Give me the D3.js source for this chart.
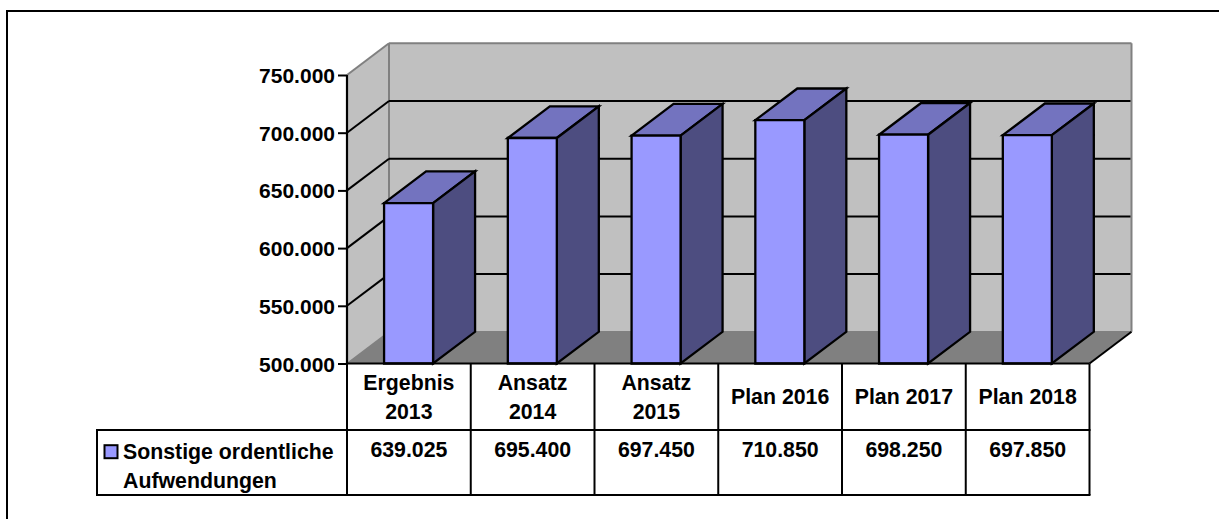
<!DOCTYPE html>
<html><head><meta charset="utf-8">
<script src="https://cdn.jsdelivr.net/npm/d3@7/dist/d3.min.js"></script>
<style>html,body{margin:0;padding:0;background:#fff}svg{display:block}text{font-family:"Liberation Sans",Arial,sans-serif;font-weight:bold;fill:#000;font-size:21.3px}</style>
</head><body><script>
const categories=[["Ergebnis","2013"],["Ansatz","2014"],["Ansatz","2015"],["Plan 2016"],["Plan 2017"],["Plan 2018"]];
const values=[639025,695400,697450,710850,698250,697850];
const tickValues=[500000,550000,600000,650000,700000,750000];
const legendLines=["Sonstige ordentliche","Aufwendungen"];
const fmt=v=>d3.format(",")(v).replace(/,/g,".");
const W=1219,H=519;
const svg=d3.select("body").append("svg").attr("width",W).attr("height",H);
const band=d3.scaleBand().domain(d3.range(6)).range([347,1089.5]);
const y=d3.scaleLinear().domain([500000,750000]).range([363.5,75]);
const dx=42,dy=-31.7,barW=49,sw=2.3;
const poly=(pts,fill,stroke,w)=>svg.append("path").attr("d","M"+pts.map(p=>p.join(",")).join("L")+"Z").attr("fill",fill).attr("stroke",stroke||"none").attr("stroke-width",w||0).attr("stroke-linejoin","miter");
const line=(a,b,c,w)=>svg.append("line").attr("x1",a[0]).attr("y1",a[1]).attr("x2",b[0]).attr("y2",b[1]).attr("stroke",c).attr("stroke-width",w);
line([6,11],[1219,11],"#000",2);
line([7,10],[7,519],"#000",2);
const x0=347,x1=1089.5,yb=y(500000),yt=y(750000);
poly([[x0+dx,yt+dy],[x1+dx,yt+dy],[x1+dx,yb+dy],[x0+dx,yb+dy]],"#c0c0c0");
poly([[x0,yt],[x0+dx,yt+dy],[x0+dx,yb+dy],[x0,yb]],"#c0c0c0");
poly([[x0,yb],[x0+dx,yb+dy],[x1+dx,yb+dy],[x1,yb]],"#808080");
line([x0,yt],[x0+dx,yt+dy],"#808080",2);
line([x0+dx,yt+dy],[x1+dx,yt+dy],"#808080",2);
line([x1+dx,yt+dy],[x1+dx,yb+dy],"#808080",2);
line([x0+dx,yt+dy],[x0+dx,yb+dy],"#808080",2);
line([x0+dx,yb+dy],[x1+dx,yb+dy],"#808080",1.5);
line([x0,yb],[x0+dx,yb+dy],"#808080",1.5);
line([x1+dx,yb+dy],[x1,yb],"#000",2);
tickValues.slice(1,5).forEach(t=>{const v=y(t);
 line([x0,v],[x0+dx,v+dy],"#000",2);
 line([x0+dx,v+dy],[x1+dx-1,v+dy],"#000",2);});
values.forEach((v,i)=>{const cx=band(i)+band.bandwidth()/2,l=cx-barW/2-0.3,r=l+barW,t=y(v);
 poly([[l,t],[l+dx,t+dy],[r+dx,t+dy],[r,t]],"#7373bf","#000",sw);
 poly([[r,t],[r+dx,t+dy],[r+dx,yb+dy],[r,yb]],"#4d4d80","#000",sw);
 poly([[l,t],[r,t],[r,yb],[l,yb]],"#9999ff","#000",sw);
});
const axis=svg.append("g").attr("transform","translate(347,0)").call(d3.axisLeft(y).tickValues(tickValues).tickFormat(fmt).tickSize(9).tickPadding(3));
axis.selectAll("path").attr("d",`M0,${yt}V${yb}`).attr("stroke","#000").attr("stroke-width",2.2).attr("fill","none");
axis.selectAll("line").attr("stroke","#000").attr("stroke-width",2);
axis.selectAll("text").style("font-size","21px").style("font-family","'Liberation Sans',Arial,sans-serif").style("font-weight","bold").attr("dy","0.36em");
const rows=[363.5,430,495];
const L=97;
line([x0,rows[0]],[x1,rows[0]],"#000",2.2);
line([L-1,rows[1]],[x1+1,rows[1]],"#000",2);
line([L-1,rows[2]],[x1+1,rows[2]],"#000",2);
line([L,rows[1]],[L,rows[2]],"#000",2);
d3.range(7).forEach(i=>{const vx=i<6?band(i):x1;line([vx,rows[0]],[vx,rows[2]],"#000",2);});
categories.forEach((c,i)=>{const cx=band(i)+band.bandwidth()/2;
 const ys=c.length===2?[389.5,419]:[404];
 c.forEach((s,j)=>svg.append("text").attr("x",cx).attr("y",ys[j]).attr("text-anchor","middle").text(s));
 svg.append("text").attr("x",cx).attr("y",456.5).attr("text-anchor","middle").text(fmt(values[i]));
});
svg.append("rect").attr("x",104.5).attr("y",445.2).attr("width",13).attr("height",13).attr("fill","#9999ff").attr("stroke","#000").attr("stroke-width",2);
legendLines.forEach((s,j)=>svg.append("text").attr("x",123).attr("y",[458.5,487.5][j]).text(s));
</script></body></html>
